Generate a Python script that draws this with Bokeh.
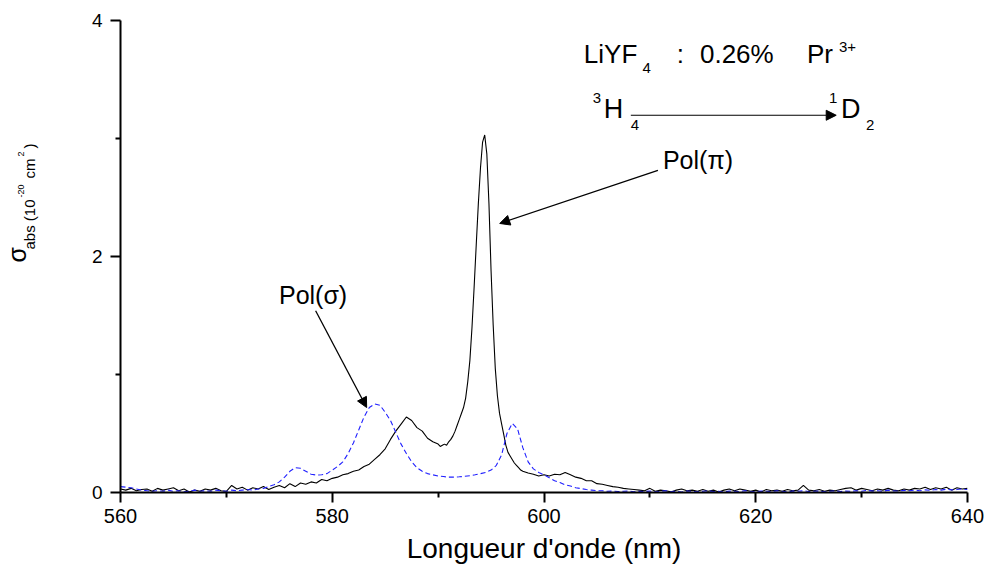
import numpy as np
from bokeh.plotting import figure
from bokeh.layouts import row
from bokeh.models import (Label, Arrow, NormalHead, FixedTicker, Range1d)
from bokeh.embed import file_html
from bokeh.resources import INLINE

# ---------------- data ----------------
# Pol(pi) (black, solid) -- three sampled segments
black_seg1_start, black_seg1_step = 560.0, 0.5
black_seg1 = [0.03, 0.02, 0.035, 0.015, 0.025, 0.03, 0.01, 0.035, 0.02, 0.03,
              0.04, 0.015, 0.03, 0.005, 0.02, 0.01, 0.03, 0.02, 0.035, 0.015,
              0.01, 0.06, 0.03, 0.045, 0.02, 0.04, 0.03, 0.05, 0.025, 0.045,
              0.06, 0.04, 0.075, 0.05, 0.08, 0.07, 0.09, 0.08, 0.11, 0.10,
              0.12, 0.13, 0.15, 0.16, 0.18, 0.19, 0.22, 0.24, 0.28, 0.32,
              0.37, 0.45, 0.52, 0.58, 0.64, 0.61, 0.55, 0.52, 0.46, 0.43]
black_seg2_start, black_seg2_step = 590.0, 0.2
black_seg2 = [0.41, 0.39, 0.40, 0.41, 0.40, 0.43, 0.45, 0.48, 0.52, 0.57,
              0.62, 0.67, 0.72, 0.80, 0.94, 1.12, 1.40, 1.74, 2.10, 2.45,
              2.75, 2.97, 3.03, 2.87, 2.45, 1.88, 1.42, 1.05, 0.82, 0.67,
              0.58, 0.49, 0.40, 0.34, 0.31, 0.28, 0.25, 0.23, 0.21, 0.19]
black_seg3_start, black_seg3_step = 598.0, 0.5
black_seg3 = [0.18, 0.165, 0.155, 0.14, 0.15, 0.14, 0.155, 0.15, 0.17, 0.15,
              0.13, 0.12, 0.10, 0.10, 0.075, 0.07, 0.06, 0.05, 0.045, 0.035,
              0.03, 0.025, 0.02, 0.015, 0.035, 0.01, 0.02, 0.015, 0.005, 0.02,
              0.03, 0.015, 0.02, 0.01, 0.025, 0.01, 0.02, 0.005, 0.02, 0.03,
              0.015, 0.03, 0.02, 0.01, 0.02, 0.005, 0.025, 0.015, 0.02, 0.01,
              0.025, 0.015, 0.02, 0.06, 0.02, 0.015, 0.025, 0.01, 0.02, 0.015,
              0.025, 0.035, 0.04, 0.02, 0.035, 0.025, 0.015, 0.03, 0.02, 0.035,
              0.02, 0.015, 0.03, 0.02, 0.035, 0.03, 0.045, 0.025, 0.04, 0.03,
              0.045, 0.02, 0.04, 0.03, 0.035]

# Pol(sigma) (blue, dashed)
blue_start, blue_step = 560.0, 0.5
blue_vals = [0.05, 0.045, 0.04, 0.03, 0.02, 0.015, 0.01, 0.015, 0.01, 0.02,
             0.01, 0.015, 0.005, 0.01, 0.02, 0.01, 0.015, 0.01, 0.02, 0.015,
             0.01, 0.02, 0.015, 0.02, 0.025, 0.02, 0.03, 0.035, 0.05, 0.065,
             0.09, 0.13, 0.18, 0.21, 0.205, 0.18, 0.155, 0.148, 0.15, 0.16,
             0.19, 0.22, 0.26, 0.33, 0.42, 0.53, 0.64, 0.72, 0.75, 0.74,
             0.68, 0.61, 0.51, 0.41, 0.33, 0.26, 0.21, 0.18, 0.16, 0.15,
             0.14, 0.135, 0.13, 0.13, 0.133, 0.137, 0.142, 0.15, 0.16, 0.17,
             0.19, 0.23, 0.32, 0.50, 0.585, 0.54, 0.38, 0.26, 0.20, 0.17,
             0.15, 0.125, 0.10, 0.085, 0.065, 0.055, 0.04, 0.033, 0.025, 0.02,
             0.015, 0.015, 0.01, 0.012, 0.008, 0.01, 0.012, 0.006, 0.01, 0.008,
             0.012, 0.005, 0.01, 0.015, 0.008, 0.01, 0.004, 0.012, 0.01, 0.006,
             0.01, 0.014, 0.008, 0.01, 0.005, 0.012, 0.01, 0.008, 0.015, 0.01,
             0.006, 0.012, 0.01, 0.008, 0.014, 0.01, 0.005, 0.012, 0.01, 0.015,
             0.008, 0.01, 0.012, 0.006, 0.01, 0.014, 0.008, 0.012, 0.01, 0.015,
             0.01, 0.018, 0.012, 0.015, 0.01, 0.02, 0.014, 0.012, 0.018, 0.015,
             0.02, 0.015, 0.022, 0.018, 0.025, 0.02, 0.028, 0.022, 0.025, 0.03,
             0.025]

x_major_ticks = [560, 580, 600, 620, 640]
x_minor_ticks = [570, 590, 610, 630]
y_major_ticks = [0, 2, 4]
y_minor_ticks = [1, 3]


def grid(start, step, vals):
    return start + step * np.arange(len(vals))


black_x = np.concatenate([grid(black_seg1_start, black_seg1_step, black_seg1),
                          grid(black_seg2_start, black_seg2_step, black_seg2),
                          grid(black_seg3_start, black_seg3_step, black_seg3)])
black_y = np.array(black_seg1 + black_seg2 + black_seg3)
blue_x = grid(blue_start, blue_step, blue_vals)
blue_y = np.array(blue_vals)

FONT = "Liberation Sans"
STRIP_W = 60
TOP, BOTTOM = 20, 80

# ---------------- main plot ----------------
p = figure(width=988 - STRIP_W, height=572, output_backend="svg",
           toolbar_location=None, title=None,
           x_range=Range1d(560, 640), y_range=Range1d(0, 4),
           min_border_left=120 - STRIP_W, min_border_right=21,
           min_border_top=TOP, min_border_bottom=BOTTOM)
p.outline_line_color = None
p.xgrid.visible = False
p.ygrid.visible = False

p.line(black_x, black_y, line_color="black", line_width=1.1)
p.line(blue_x, blue_y, line_color="#1f1fff", line_width=1.1, line_dash="5 3")

for ax in (p.xaxis[0], p.yaxis[0]):
    ax.axis_line_width = 2
    ax.axis_line_color = "black"
    ax.major_tick_line_width = 2
    ax.minor_tick_line_width = 2
    ax.major_tick_in = 0
    ax.major_tick_out = 10
    ax.minor_tick_in = 0
    ax.minor_tick_out = 5
    ax.major_label_text_font = FONT
    ax.major_label_text_color = "black"
    ax.axis_label_text_font = FONT
    ax.axis_label_text_font_style = "normal"
    ax.axis_label_text_color = "black"

p.xaxis.ticker = FixedTicker(ticks=x_major_ticks, minor_ticks=x_minor_ticks)
p.yaxis.ticker = FixedTicker(ticks=y_major_ticks, minor_ticks=y_minor_ticks)
p.xaxis.major_label_text_font_size = "20px"
p.yaxis.major_label_text_font_size = "19px"
p.xaxis.major_label_standoff = 6
p.yaxis.major_label_standoff = 8
p.xaxis.axis_label = "Longueur d'onde (nm)"
p.xaxis.axis_label_text_font_size = "28px"
p.xaxis.axis_label_standoff = 7


def lab(fig, x, y, text, size, angle=0.0, align="left", baseline="alphabetic"):
    fig.add_layout(Label(x=x, y=y, text=text, text_font=FONT,
                         text_font_size=size, text_color="black", angle=angle,
                         text_align=align, text_baseline=baseline))


# LiYF4 : 0.26% Pr3+
lab(p, 603.76, 3.716, "LiYF", "26px")
lab(p, 609.30, 3.599, "4", "15px")
lab(p, 612.55, 3.716, ":", "26px")
lab(p, 614.73, 3.716, "0.26%", "26px")
lab(p, 624.84, 3.716, "Pr", "26px")
lab(p, 627.86, 3.777, "3+", "15px")

# 3H4 -> 1D2
lab(p, 604.61, 3.344, "3", "15px")
lab(p, 605.65, 3.252, "H", "27px")
lab(p, 608.20, 3.115, "4", "15px")
lab(p, 626.92, 3.344, "1", "15px")
lab(p, 628.05, 3.252, "D", "27px")
lab(p, 630.42, 3.115, "2", "15px")
p.add_layout(Arrow(x_start=608.2, y_start=3.197, x_end=627.6, y_end=3.197,
                   line_width=1.2, line_color="black",
                   end=NormalHead(size=10, fill_color="black", line_color="black")))

# Pol(pi) and Pol(sigma)
lab(p, 614.54, 2.822, "Pol(π)", "25px", align="center")
p.add_layout(Arrow(x_start=610.76, y_start=2.73, x_end=595.82, y_end=2.28,
                   line_width=1.3, line_color="black",
                   end=NormalHead(size=10, fill_color="black", line_color="black")))
lab(p, 578.19, 1.675, "Pol(σ)", "25px", align="center")
p.add_layout(Arrow(x_start=578.43, y_start=1.54, x_end=583.25, y_end=0.72,
                   line_width=1.3, line_color="black",
                   end=NormalHead(size=10, fill_color="black", line_color="black")))

# ---------------- strip holding the rotated y-axis title ----------------
# (its frame is aligned with the main frame, so its y range is in page pixels)
s = figure(width=STRIP_W, height=572, output_backend="svg",
           toolbar_location=None, title=None,
           x_range=Range1d(0, STRIP_W), y_range=Range1d(572 - BOTTOM, TOP),
           x_axis_location=None, y_axis_location=None,
           min_border_left=0, min_border_right=0,
           min_border_top=TOP, min_border_bottom=BOTTOM)
s.outline_line_color = None
s.xgrid.visible = False
s.ygrid.visible = False

R = np.pi / 2
lab(s, 16.5, 262, "σ", "25px", angle=R)
lab(s, 28.5, 249, "abs (10", "15px", angle=R)
lab(s, 20.0, 197, "-20", "9px", angle=R)
lab(s, 28.5, 178, "cm", "15px", angle=R)
lab(s, 20.0, 156, "2", "9px", angle=R)
lab(s, 28.5, 148, ")", "15px", angle=R)

layout = row(s, p, spacing=0)
open("out.html", "w").write(file_html(layout, INLINE))
